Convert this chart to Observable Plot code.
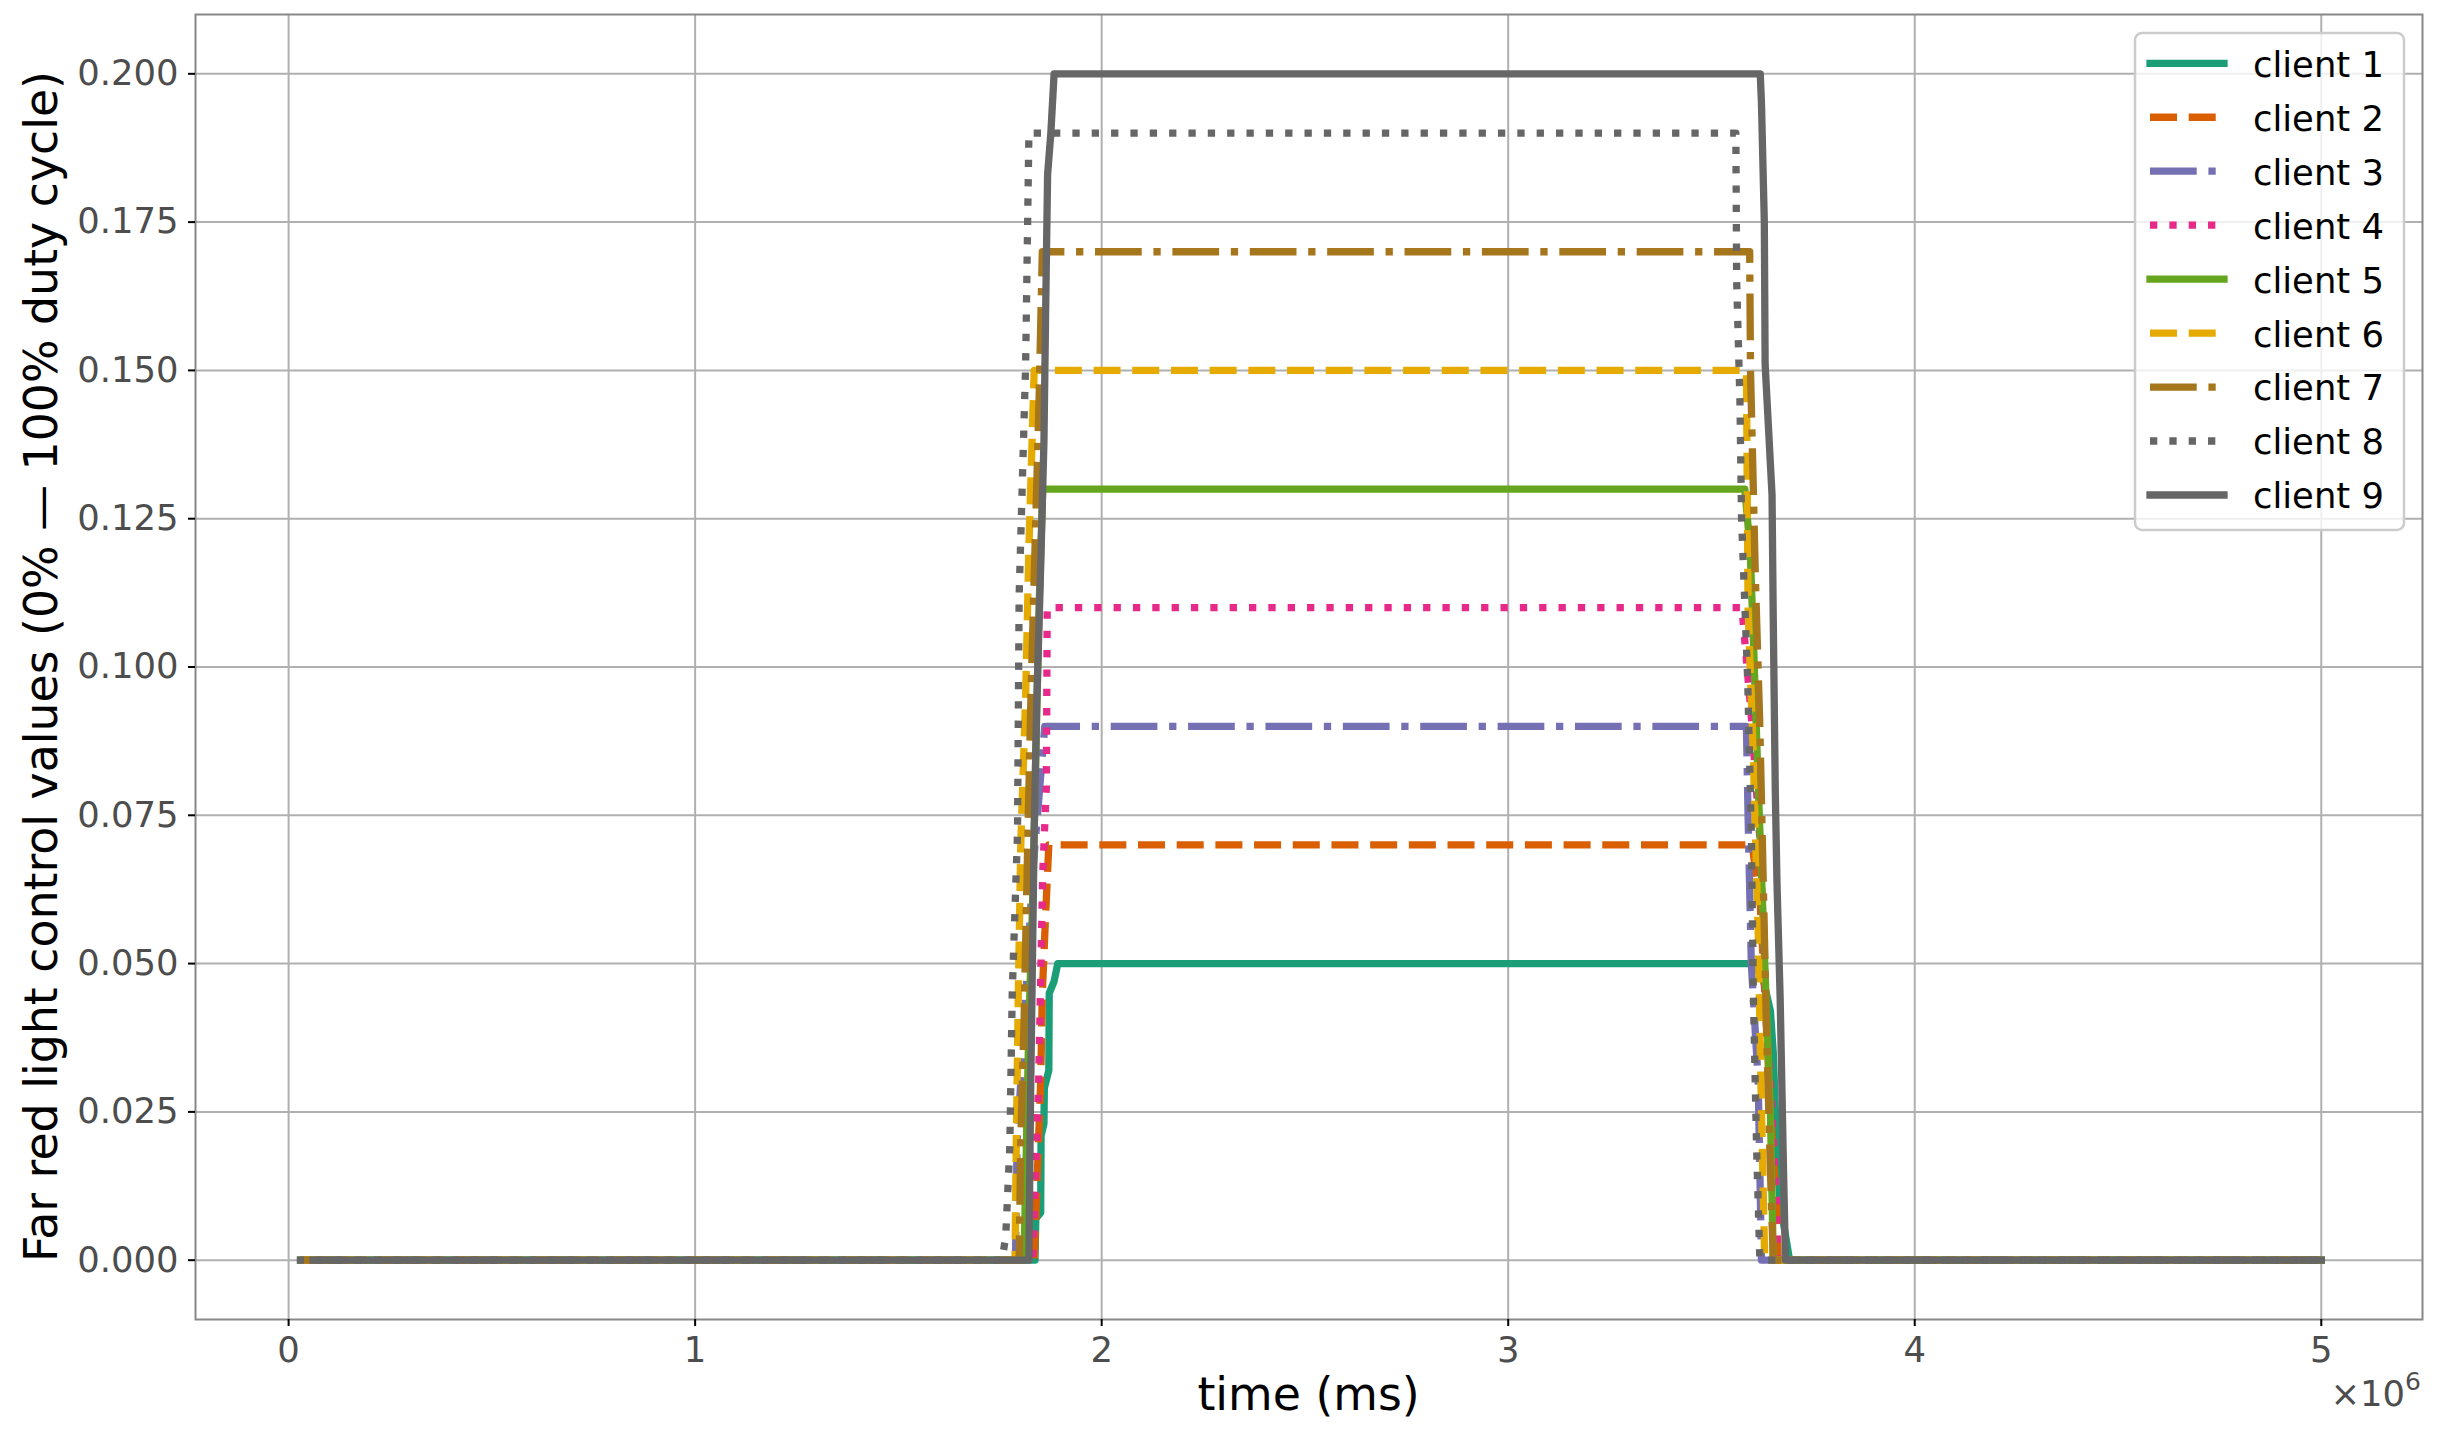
<!DOCTYPE html>
<html><head><meta charset="utf-8">
<script src="https://cdn.jsdelivr.net/npm/d3@7"></script>
<script src="https://cdn.jsdelivr.net/npm/@observablehq/plot@0.6"></script>
<style>html,body{margin:0;padding:0;background:#fff;} #chart{width:2444px;height:1435px;}</style>
</head><body><div id="chart"></div>
<script>
const clientNames = ["client 1","client 2","client 3","client 4","client 5","client 6","client 7","client 8","client 9"];
const clientColors = ["#1b9e77","#d95f02","#7570b3","#e7298a","#66a61e","#e6ab02","#a6761d","#666666","#666666"];
const clientStyles = ["solid","dashed","dashdot","dotted","solid","dashed","dashdot","dotted","solid"];
const xTicks = [0, 1000000, 2000000, 3000000, 4000000, 5000000];
const yTicks = [0, 0.025, 0.05, 0.075, 0.1, 0.125, 0.15, 0.175, 0.2];

const client1Time = [30000, 1836000, 1838000, 1850000, 1851000, 1858000, 1859000, 1870000, 1871000, 1883000, 1892000, 3600000, 3625000, 3645000, 3652000, 3660000, 3668000, 3685000, 3692000, 5000000];
const client1Value = [0, 0, 0.007, 0.008, 0.021, 0.023, 0.029, 0.032, 0.045, 0.047, 0.05, 0.05, 0.048, 0.042, 0.035, 0.02, 0.01, 0.003, 0, 0];
const client2Time = [30000, 1834000, 1842000, 1850000, 1854000, 1862000, 1870000, 3600000, 3620000, 3635000, 3645000, 3660000, 3664000, 5000000];
const client2Value = [0, 0, 0.015, 0.03, 0.045, 0.058, 0.07, 0.07, 0.06, 0.04, 0.025, 0.01, 0, 0];
const client3Time = [30000, 1788000, 1792000, 1810000, 1830000, 1860000, 3586000, 3590000, 3598000, 3615000, 3623000, 5000000];
const client3Value = [0, 0, 0.02, 0.04, 0.065, 0.09, 0.09, 0.075, 0.05, 0.03, 0, 0];
const client4Time = [30000, 1830000, 1845000, 1855000, 1864000, 1866000, 3575000, 3600000, 3620000, 3635000, 3645000, 3660000, 3662000, 5000000];
const client4Value = [0, 0, 0.03, 0.065, 0.08, 0.11, 0.11, 0.09, 0.07, 0.04, 0.03, 0.01, 0, 0];
const client5Time = [30000, 1809000, 1815000, 1821000, 1830000, 1838000, 1846000, 1855000, 3582000, 3595000, 3603000, 3615000, 3631000, 3645000, 3652000, 5000000];
const client5Value = [0, 0, 0.02, 0.04, 0.06, 0.085, 0.11, 0.13, 0.13, 0.12, 0.105, 0.08, 0.05, 0.025, 0, 0];
const client6Time = [30000, 1787000, 1790000, 1795000, 1801000, 1813000, 1821000, 1834000, 3586000, 3588000, 3590000, 3603000, 3615000, 3623000, 3631000, 5000000];
const client6Value = [0, 0, 0.02, 0.045, 0.07, 0.095, 0.12, 0.15, 0.15, 0.13, 0.11, 0.085, 0.055, 0.025, 0, 0];
const client7Time = [30000, 1797000, 1801000, 1809000, 1818000, 1826000, 1834000, 1846000, 1854000, 3594000, 3596000, 3603000, 3608000, 3619000, 3627000, 3635000, 3645000, 3652000, 5000000];
const client7Value = [0, 0, 0.02, 0.04, 0.07, 0.095, 0.115, 0.145, 0.17, 0.17, 0.15, 0.13, 0.115, 0.09, 0.065, 0.04, 0.015, 0, 0];
const client8Time = [20000, 1755000, 1764000, 1774000, 1780000, 1793000, 1797000, 1813000, 1821000, 3560000, 3562000, 3570000, 3574000, 3589000, 3598000, 3603000, 3611000, 3619000, 5000000];
const client8Value = [0, 0, 0.004, 0.019, 0.045, 0.072, 0.112, 0.151, 0.19, 0.19, 0.165, 0.145, 0.125, 0.098, 0.072, 0.045, 0.019, 0, 0];
const client9Time = [60000, 1821000, 1825000, 1834000, 1840000, 1850000, 1858000, 1862000, 1867000, 1875000, 1883000, 3620000, 3623000, 3630000, 3632000, 3649000, 3652000, 3657000, 3661000, 3669000, 3677000, 3682000, 5000000];
const client9Value = [0, 0, 0.027, 0.072, 0.093, 0.117, 0.138, 0.159, 0.183, 0.19, 0.2, 0.2, 0.195, 0.175, 0.151, 0.129, 0.108, 0.079, 0.064, 0.044, 0.016, 0, 0];

const allTimes = [client1Time, client2Time, client3Time, client4Time, client5Time, client6Time, client7Time, client8Time, client9Time];
const allValues = [client1Value, client2Value, client3Value, client4Value, client5Value, client6Value, client7Value, client8Value, client9Value];

const W = 2444, H = 1435, ML = 195, MR = 22, MT = 14, MB = 116;
const LW = 7.3;
const FONT = "DejaVu Sans";
const dashFor = s => s === "dashed" ? `${3.7*LW},${1.6*LW}` :
  s === "dashdot" ? `${6.4*LW},${1.6*LW},${LW},${1.6*LW}` :
  s === "dotted" ? `${LW},${1.65*LW}` : null;
const capFor = s => s === "solid" ? "square" : "butt";

const lineMarks = clientNames.map((name, i) => {
  const rows = allTimes[i].map((t, j) => ({client: name, t, v: allValues[i][j]}));
  const opts = {x: "t", y: "v", stroke: clientColors[i], strokeWidth: LW,
    strokeLinecap: capFor(clientStyles[i]), strokeLinejoin: "round"};
  const d = dashFor(clientStyles[i]);
  if (d) opts.strokeDasharray = d;
  return Plot.line(rows, opts);
});

const chart = Plot.plot({
  width: W, height: H,
  marginLeft: ML, marginRight: MR, marginTop: MT, marginBottom: MB,
  style: {fontFamily: FONT, fontSize: "35.4px", color: "#4d4d4d", background: "white"},
  x: {domain: [-229000, 5249000]},
  y: {domain: [-0.01, 0.21]},
  marks: [
    Plot.gridX(xTicks, {stroke: "#b0b0b0", strokeOpacity: 1, strokeWidth: 2}),
    Plot.gridY(yTicks, {stroke: "#b0b0b0", strokeOpacity: 1, strokeWidth: 2}),
    ...lineMarks,
    Plot.frame({stroke: "#888888", strokeWidth: 2}),
    Plot.axisX(xTicks, {tickSize: 7, tickPadding: 10, stroke: "black", strokeWidth: 2,
      tickFormat: d => String(d / 1e6), label: null, fontSize: 35.4}),
    Plot.axisY(yTicks, {tickSize: 7, tickPadding: 10, stroke: "black", strokeWidth: 2,
      tickFormat: d3.format(".3f"), label: null, fontSize: 35.4})
  ]
});
document.getElementById("chart").appendChild(chart);

const svg = d3.select(chart);
svg.selectAll("g[aria-label$='tick label'] text")
  .style("font-size", "35.4px").style("font-family", FONT).attr("fill", "#4d4d4d");

// axis labels
svg.append("text").attr("x", (ML + W - MR) / 2).attr("y", 1410)
  .attr("text-anchor", "middle").attr("fill", "black")
  .style("font-family", FONT).style("font-size", "45.8px").text("time (ms)");
svg.append("text").attr("transform", `translate(56.7,${(MT + H - MB) / 2}) rotate(-90)`)
  .attr("text-anchor", "middle").attr("fill", "black")
  .style("font-family", FONT).style("font-size", "45.8px")
  .text("Far red light control values (0% — 100% duty cycle)");
// offset text
const off = svg.append("text").attr("x", 2421).attr("y", 1406).attr("text-anchor", "end")
  .attr("fill", "#4d4d4d").style("font-family", FONT).style("font-size", "35.4px");
off.append("tspan").text("×10");
off.append("tspan").attr("dy", -16).style("font-size", "25px").text("6");

// legend
const lg = svg.append("g").attr("text-anchor", "start");
lg.append("rect").attr("x", 2135).attr("y", 33).attr("width", 269).attr("height", 497)
  .attr("rx", 7).attr("fill", "white").attr("fill-opacity", 0.8)
  .attr("stroke", "#cccccc").attr("stroke-width", 2.5);
clientNames.forEach((name, i) => {
  const cy = 63.3 + 53.96 * i;
  const ln = lg.append("line").attr("x1", 2150).attr("x2", 2224).attr("y1", cy).attr("y2", cy)
    .attr("stroke", clientColors[i]).attr("stroke-width", LW)
    .attr("stroke-linecap", capFor(clientStyles[i]));
  const d = dashFor(clientStyles[i]);
  if (d) ln.attr("stroke-dasharray", d);
  lg.append("text").attr("x", 2253).attr("y", cy + 13.4).attr("fill", "black")
    .attr("text-anchor", "start")
    .style("font-family", FONT).style("font-size", "35.4px").text(name);
});
</script>
</body></html>
